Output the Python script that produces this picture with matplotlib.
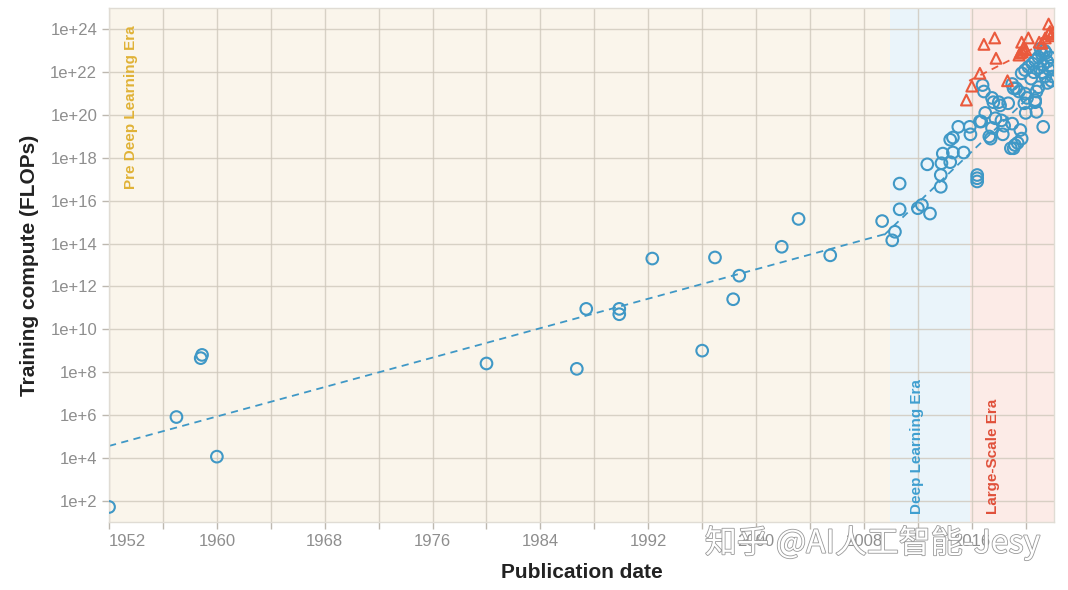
import numpy as np
import matplotlib
matplotlib.use("Agg")
import matplotlib.pyplot as plt
import matplotlib.patheffects as pe

plt.rcParams['font.family'] = ['Liberation Sans', 'DejaVu Sans']

# regular-scale systems (year, log10 of training FLOPs)
blue_year = [1952.0, 1957.0, 1958.9, 1958.8, 1960.0, 1980.0, 1986.7, 1987.4, 1989.85, 1989.85,
             1992.3, 1996.0, 1996.95, 1998.3, 1998.75, 2001.9, 2003.15, 2005.5, 2009.35,
             2010.1, 2010.3, 2010.65, 2010.65, 2012.0, 2012.3, 2012.9, 2012.7, 2013.7, 2013.7,
             2013.75, 2013.85, 2014.4, 2014.4, 2014.6, 2014.6, 2015.0, 2015.4, 2015.85, 2015.9,
             2016.4, 2016.4, 2016.4, 2016.7, 2016.8, 2016.9, 2017.0, 2017.4, 2017.5, 2017.6,
             2018.0, 2018.1, 2018.7, 2017.75, 2018.2, 2018.4, 2018.3, 2019.0, 2019.6, 2019.7,
             2019.4, 2018.9, 2019.1, 2019.2, 2020.0, 2019.9, 2020.8, 2020.7, 2021.3, 2019.0,
             2019.1, 2019.3, 2019.5, 2019.95, 2020.1, 2019.7, 2019.95, 2020.2, 2020.5, 2020.7,
             2020.95, 2021.2, 2021.3, 2021.6, 2021.7, 2021.45, 2020.95, 2020.8, 2020.7, 2017.3,
             2017.5, 2016.6, 2021.5, 2021.8, 2021.9, 2022.0, 2021.9, 2021.6, 2021.2, 2020.4,
             2020.6, 2021.0, 2021.4, 2021.1]
blue_flops = [1.7, 5.9, 8.8, 8.65, 4.05, 8.4, 8.15, 10.95, 10.95, 10.7,
              13.3, 9.0, 13.35, 11.4, 12.5, 13.85, 15.15, 13.45, 15.05,
              14.15, 14.55, 16.8, 15.6, 15.65, 15.8, 15.4, 17.7, 16.65, 17.2,
              17.75, 18.2, 17.8, 18.85, 18.95, 18.25, 19.45, 18.25, 19.45, 19.1,
              17.2, 17.05, 16.9, 19.7, 21.4, 21.1, 20.1, 18.9, 20.8, 20.6,
              20.6, 20.45, 20.55, 19.85, 19.75, 19.5, 19.1, 19.6, 19.3, 18.9,
              18.7, 18.45, 18.45, 18.6, 20.1, 20.55, 20.15, 20.6, 19.45, 21.45,
              21.25, 21.25, 21.1, 21.0, 20.8, 21.95, 22.1, 22.25, 22.4, 22.55,
              22.7, 22.85, 22.35, 22.5, 22.15, 21.8, 21.3, 21.1, 20.7, 19.0,
              19.4, 19.7, 22.9, 22.7, 22.3, 21.8, 21.6, 21.5, 22.0, 21.7,
              22.0, 22.2, 23.0, 23.1]

# large-scale systems
red_year = [2015.6, 2016.0, 2016.6, 2016.9, 2017.7, 2017.8, 2018.65, 2019.5, 2019.6, 2019.75,
            2019.8, 2020.0, 2019.7, 2020.2, 2021.0, 2021.2, 2021.45, 2021.7, 2021.8, 2021.7,
            2021.9, 2022.0]
red_flops = [20.7, 21.35, 21.95, 23.3, 23.6, 22.65, 21.6, 22.8, 22.9, 22.95,
             23.1, 23.05, 23.4, 23.6, 23.4, 23.35, 23.6, 23.8, 23.9, 24.25,
             23.7, 23.85]

# trend lines (start/end)
trend_pre_year, trend_pre_flops = [1952.0, 2009.9], [4.55, 14.5]
trend_dl_year, trend_dl_flops = [2009.5, 2022.1], [14.4, 21.95]
trend_ls_year, trend_ls_flops = [2015.8, 2022.1], [21.6, 23.6]

eras = [(1952.0, 2009.9, '#faf5eb'), (2009.9, 2015.9, '#eaf4fa'), (2015.9, 2022.1, '#fcebe7')]
grid_years = list(range(1952, 2022, 4))
yticks = list(range(2, 25, 2))

blue = '#3f98c6'
red = '#ea5a3d'

fig = plt.figure(figsize=(10.68, 5.9), dpi=100)
ax = fig.add_axes([0.1021, 0.1153, 0.8848, 0.8712])

for x0, x1, c in eras:
    ax.axvspan(x0, x1, color=c, lw=0, zorder=0)

ax.set_yscale('log')
ax.set_xlim(1952, 2022.1)
ax.set_ylim(10, 1e25)

ax.set_xticks(grid_years)
labels = ax.set_xticklabels([str(y) if (y - 1952) % 8 == 0 else '' for y in grid_years])
labels[0].set_horizontalalignment('left')
ax.set_yticks([10.0 ** k for k in yticks])
ax.set_yticklabels(['1e+%d' % k for k in yticks])
ax.yaxis.set_minor_locator(matplotlib.ticker.NullLocator())
ax.grid(True, color='#cfc8bc', lw=1, alpha=0.8, zorder=1)
ax.tick_params(axis='both', colors='#bdb8b0', labelcolor='#8e8e8e', labelsize=12, length=5, width=1)
for s in ax.spines.values():
    s.set_color('#e0dcd4')
    s.set_linewidth(1)

ax.plot(trend_pre_year, 10.0 ** np.array(trend_pre_flops), ls=(0, (4, 3)), color=blue, lw=1.3, zorder=2)
ax.plot(trend_dl_year, 10.0 ** np.array(trend_dl_flops), ls=(0, (4, 3)), color=blue, lw=1.3, zorder=2)
ax.plot(trend_ls_year, 10.0 ** np.array(trend_ls_flops), ls=(0, (4, 3)), color=red, lw=1.3, zorder=2)

ax.scatter(blue_year, 10.0 ** np.array(blue_flops), s=70, facecolors='none', edgecolors=blue,
           linewidths=1.5, zorder=3)
ax.scatter(red_year, 10.0 ** np.array(red_flops), s=60, marker='^', facecolors='none',
           edgecolors=red, linewidths=1.5, zorder=3)

ax.text(1953.6, 10 ** 24.2, 'Pre Deep Learning Era', rotation=90, color='#e0b236',
        fontsize=11, fontweight='bold', va='top', ha='center')
ax.text(2011.9, 10 ** 1.35, 'Deep Learning Era', rotation=90, color='#3f9fd0',
        fontsize=11, fontweight='bold', va='bottom', ha='center')
ax.text(2017.55, 10 ** 1.35, 'Large-Scale Era', rotation=90, color='#e0503a',
        fontsize=11, fontweight='bold', va='bottom', ha='center')

ax.set_xlabel('Publication date', fontsize=15, fontweight='bold', color='#222222', labelpad=10)
ax.set_ylabel('Training compute (FLOPs)', fontsize=15, fontweight='bold', color='#222222', labelpad=8)

# watermark
fig.text(0.66, 0.08, '知乎 @AI人工智能-Jesy', fontsize=23, color='white',
         family=['Noto Sans CJK SC', 'DejaVu Sans'], va='center', ha='left',
         path_effects=[pe.withStroke(linewidth=1.2, foreground='#9a9a9a')])

fig.savefig('out.png', dpi=100)
